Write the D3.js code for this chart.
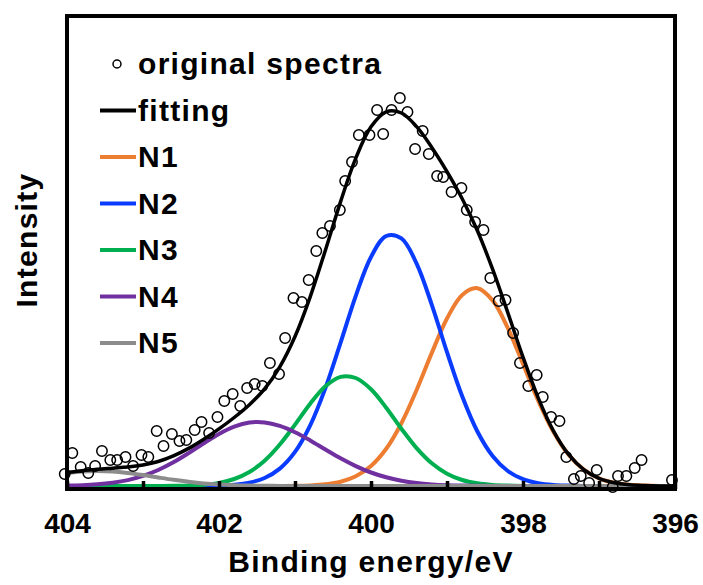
<!DOCTYPE html>
<html>
<head>
<meta charset="utf-8">
<script src="https://cdn.jsdelivr.net/npm/d3@7"></script>
<style>
  body { margin: 0; background: #fff; }
  svg text { font-family: "Liberation Sans", Arial, Helvetica, sans-serif; font-weight: bold; fill: #000; }
</style>
</head>
<body>
<svg width="703" height="585"><g></g></svg>
<script>
// measured spectrum (binding energy in eV, intensity in a.u.)
const SPECTRA_ENERGY = [
  404.03, 403.93, 403.82, 403.72, 403.63, 403.54, 403.43, 403.34, 403.23, 403.13,
  403.02, 402.93, 402.82, 402.73, 402.62, 402.52, 402.43, 402.32, 402.23, 402.13,
  402.02, 401.93, 401.82, 401.72, 401.63, 401.53, 401.43, 401.33, 401.21, 401.13,
  401.02, 400.91, 400.82, 400.72, 400.64, 400.54, 400.41, 400.34, 400.25, 400.16,
  400.02, 399.92, 399.84, 399.73, 399.62, 399.52, 399.42, 399.32, 399.24, 399.13,
  399.05, 398.94, 398.81, 398.74, 398.63, 398.52, 398.43, 398.32, 398.23, 398.13,
  398.04, 397.93, 397.82, 397.74, 397.63, 397.52, 397.43, 397.33, 397.24, 397.13,
  397.03, 396.82, 396.75, 396.64, 396.53, 396.44, 396.04
];
const SPECTRA_INTENSITY = [
  12, 33, 19, 13, 20, 35, 26, 26, 29, 20,
  31, 29, 55, 40, 52, 45, 46, 56, 64, 53,
  69, 85, 92, 80, 98, 102, 100, 123, 112, 148,
  188, 184, 206, 235, 253, 260, 276, 305, 324, 351,
  351, 376, 352, 376, 388, 374, 337, 355, 332, 310,
  309, 294, 298, 276, 264, 256, 208, 185, 186, 153,
  123, 100, 111, 89, 69, 65, 29, 7, 10, 3,
  16, -1, 10, 10, 18, 26, 6
];

// energy grid of the fitted curves
const CURVE_ENERGY = [
  404.0, 403.8, 403.6, 403.4, 403.2, 403.0, 402.8, 402.6, 402.4, 402.2,
  402.0, 401.8, 401.6, 401.4, 401.2, 401.0, 400.8, 400.6, 400.4, 400.2,
  400.0, 399.8, 399.6, 399.4, 399.2, 399.0, 398.8, 398.6, 398.4, 398.2,
  398.0, 397.8, 397.6, 397.4, 397.2, 397.0, 396.8, 396.6, 396.4, 396.2, 396.0
];
const FITTING = [
  13.4, 15.3, 16.7, 17.8, 18.9, 21.0, 24.5, 30.1, 37.6, 46.8,
  57.1, 68.5, 81.3, 97.1, 119.2, 149.5, 189.2, 235.8, 284.4, 327.9,
  359.2, 374.2, 373.0, 359.3, 338.6, 314.4, 287.2, 255.2, 216.8, 173.4,
  128.9, 88.2, 55.2, 31.6, 16.4, 7.7, 3.3, 1.3, 0.5, 0.1, 0
];
const N1 = [
  0, 0, 0, 0, 0, 0, 0, 0, 0, 0,
  0, 0, 0, 0, 0.1, 0.2, 0.6, 1.7, 4.3, 9.8,
  20.0, 37.2, 62.8, 96.0, 133.1, 167.5, 191.1, 197.8, 185.6, 158.0,
  122.0, 85.4, 54.2, 31.2, 16.3, 7.7, 3.3, 1.3, 0.5, 0.1, 0
];
const N2 = [
  0, 0, 0, 0, 0, 0, 0, 0, 0, 0.1,
  0.4, 1.3, 3.4, 8.0, 17.4, 34.1, 60.7, 97.9, 143.3, 190.2,
  229.0, 250.0, 247.6, 222.4, 181.2, 133.8, 89.7, 54.5, 30.0, 15.0,
  6.8, 2.8, 1.0, 0.4, 0.1, 0, 0, 0, 0, 0, 0
];
const N3 = [
  0, 0, 0, 0, 0, 0, 0, 0.2, 0.5, 1.3,
  3.1, 7.0, 14.0, 25.3, 41.5, 61.4, 82.3, 99.7, 109.1, 108.0,
  96.7, 78.3, 57.3, 37.9, 22.7, 12.3, 6.0, 2.7, 1.1, 0.4,
  0.1, 0, 0, 0, 0, 0, 0, 0, 0, 0, 0
];
const N4 = [
  0.4, 0.8, 1.7, 3.3, 5.9, 10.1, 16.0, 23.7, 32.9, 42.8,
  52.1, 59.4, 63.5, 63.6, 60.1, 53.8, 45.6, 36.5, 27.7, 19.9,
  13.5, 8.7, 5.3, 3.0, 1.6, 0.8, 0.4, 0.2, 0.1, 0,
  0, 0, 0, 0, 0, 0, 0, 0, 0, 0, 0
];
const N5 = [
  13.0, 14.5, 15.0, 14.5, 13.0, 10.9, 8.5, 6.2, 4.2, 2.6,
  1.5, 0.8, 0.4, 0.2, 0.1, 0, 0, 0, 0, 0,
  0, 0, 0, 0, 0, 0, 0, 0, 0, 0,
  0, 0, 0, 0, 0, 0, 0, 0, 0, 0, 0
];

const COMPONENT_NAMES = ['N1', 'N2', 'N3', 'N4', 'N5'];
const COMPONENT_COLORS = ['#ed7d31', '#0a3cff', '#00b050', '#7030a0', '#8c8c8c'];
const X_TICKS = [404, 403, 402, 401, 400, 399, 398, 397, 396];

// plot box
const PLOT = { left: 67, right: 675, top: 16, bottom: 489 };
const BASELINE = 486;

const svg = d3.select('svg');
const chart = svg.select('g');

const x = d3.scaleLinear()
    .domain([404, 396])            // binding energy decreases to the right
    .range([PLOT.left, PLOT.right]);
const y = d3.scaleLinear()
    .domain([0, 470])
    .range([BASELINE, PLOT.top]);

const line = d3.line()
    .x(d => x(d[0]))
    .y(d => y(d[1]))
    .curve(d3.curveCatmullRom.alpha(0.5));

// component peaks
const components = [N1, N2, N3, N4, N5];
chart.selectAll('.component')
    .data(components)
    .join('path')
    .classed('component', true)
    .attr('d', vals => line(CURVE_ENERGY.map((e, i) => [e, vals[i]])))
    .attr('fill', 'none')
    .attr('stroke', (d, i) => COMPONENT_COLORS[i])
    .attr('stroke-width', 4);

// envelope
chart.append('path')
    .attr('d', line(CURVE_ENERGY.map((e, i) => [e, FITTING[i]])))
    .attr('fill', 'none')
    .attr('stroke', '#000')
    .attr('stroke-width', 3.5);

// measured points
chart.selectAll('.pt')
    .data(SPECTRA_ENERGY)
    .join('circle')
    .classed('pt', true)
    .attr('cx', d => x(d))
    .attr('cy', (d, i) => y(SPECTRA_INTENSITY[i]))
    .attr('r', 5.2)
    .attr('fill', 'none')
    .attr('stroke', '#000')
    .attr('stroke-width', 1.5);

// frame
chart.append('rect')
    .attr('x', PLOT.left)
    .attr('y', PLOT.top)
    .attr('width', PLOT.right - PLOT.left)
    .attr('height', PLOT.bottom - PLOT.top)
    .attr('fill', 'none')
    .attr('stroke', '#000')
    .attr('stroke-width', 4);

// x axis, short ticks pointing inward, labels on even values only
const xAxis = chart.append('g')
    .attr('transform', `translate(0, ${PLOT.bottom})`)
    .call(d3.axisBottom(x)
        .tickValues(X_TICKS)
        .tickSize(-8)
        .tickPadding(24)
        .tickFormat(d => d % 2 === 0 ? d : ''));
xAxis.select('.domain').remove();
xAxis.attr('font-family', null);
xAxis.selectAll('.tick line')
    .attr('stroke', '#000')
    .attr('stroke-width', 3.5);
xAxis.selectAll('.tick text')
    .attr('font-size', 28)
    .attr('fill', '#000');

// axis titles
svg.append('text')
    .attr('x', (PLOT.left + PLOT.right) / 2)
    .attr('y', 572)
    .attr('text-anchor', 'middle')
    .attr('font-size', 30)
    .attr('letter-spacing', 1.3)
    .text('Binding energy/eV');

svg.append('text')
    .attr('transform', 'translate(37, 240) rotate(-90)')
    .attr('text-anchor', 'middle')
    .attr('font-size', 30)
    .attr('letter-spacing', 1.3)
    .text('Intensity');

// legend
const LEGEND_LABELS = ['original spectra', 'fitting'].concat(COMPONENT_NAMES);
const legendColors = ['#000', '#000'].concat(COMPONENT_COLORS);
const rows = chart.append('g')
    .selectAll('g')
    .data(LEGEND_LABELS)
    .join('g')
    .attr('transform', (d, i) => `translate(0, ${74 + i * 46.5})`);

rows.append('text')
    .attr('x', 138)
    .attr('y', 0)
    .attr('font-size', 30)
    .attr('letter-spacing', 1.3)
    .text(d => d);

rows.filter((d, i) => i === 0)
    .append('circle')
    .attr('cx', 117)
    .attr('cy', -10)
    .attr('r', 4)
    .attr('fill', 'none')
    .attr('stroke', '#000')
    .attr('stroke-width', 1.5);

rows.filter((d, i) => i > 0)
    .append('line')
    .attr('x1', 100)
    .attr('x2', 136)
    .attr('y1', -10)
    .attr('y2', -10)
    .attr('stroke', d => legendColors[LEGEND_LABELS.indexOf(d)])
    .attr('stroke-width', 4);
</script>
</body>
</html>
